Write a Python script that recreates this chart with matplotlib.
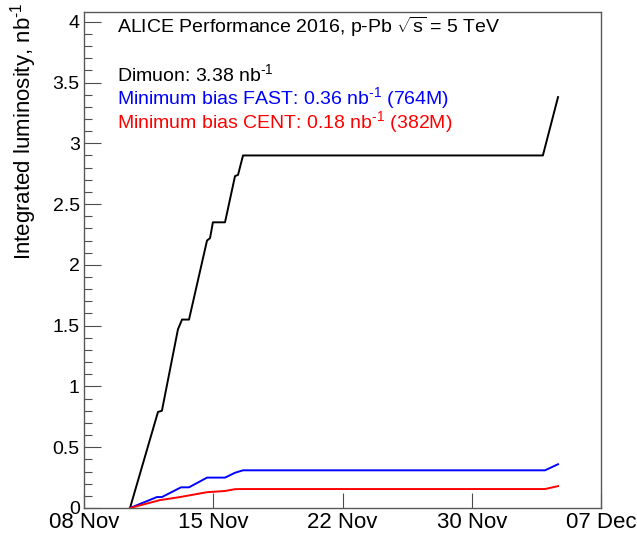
import matplotlib
matplotlib.use("Agg")
import matplotlib.pyplot as plt
from matplotlib.ticker import MultipleLocator, FuncFormatter

plt.rcParams['font.family'] = ['Liberation Sans', 'DejaVu Sans']
plt.rcParams['mathtext.fontset'] = 'custom'
plt.rcParams['mathtext.rm'] = 'Liberation Sans'
plt.rcParams['mathtext.it'] = 'Liberation Sans:italic'
plt.rcParams['mathtext.bf'] = 'Liberation Sans:bold'

# days since 08 Nov 2016
dimuon_t = [2.58, 4.15, 4.37, 5.27, 5.50, 5.89, 6.90, 7.07, 7.23, 7.91, 8.47, 8.64, 8.92, 25.74, 26.59]
dimuon_l = [0.0, 0.79, 0.80, 1.47, 1.55, 1.55, 2.20, 2.22, 2.35, 2.35, 2.73, 2.74, 2.90, 2.90, 3.38]

fast_t = [2.58, 4.09, 4.37, 5.44, 5.89, 6.90, 7.91, 8.47, 8.92, 25.86, 26.59]
fast_l = [0.0, 0.09, 0.09, 0.17, 0.17, 0.25, 0.25, 0.29, 0.31, 0.31, 0.36]

cent_t = [2.58, 4.26, 5.38, 6.90, 7.91, 8.47, 8.92, 25.86, 26.59]
cent_l = [0.0, 0.065, 0.09, 0.13, 0.14, 0.155, 0.156, 0.156, 0.18]

xtick_pos = [0, 7.25, 14.5, 21.75, 29]
xtick_labels = ["08 Nov", "15 Nov", "22 Nov", "30 Nov", "07 Dec"]

fig = plt.figure(figsize=(6.37, 5.34), dpi=100)
ax = fig.add_axes([84 / 637, 26 / 534, 517 / 637, 496 / 534])

ax.plot(dimuon_t, dimuon_l, color="black", lw=1.4)
ax.plot(fast_t, fast_l, color="blue", lw=1.4)
ax.plot(cent_t, cent_l, color="red", lw=1.4)

ax.set_xlim(0, 29)
ax.set_ylim(0, 4.08)

ax.set_xticks(xtick_pos)
ax.set_xticklabels(xtick_labels)
ax.yaxis.set_major_locator(MultipleLocator(0.5))
ax.yaxis.set_minor_locator(MultipleLocator(0.1))
ax.yaxis.set_major_formatter(FuncFormatter(lambda v, p: "%g" % v))

ax.tick_params(axis="x", which="major", direction="in", length=11, width=0.8,
               labelsize=16, pad=3, color="0.3")
ax.tick_params(axis="y", which="major", direction="in", length=12, width=0.8,
               labelsize=14, pad=3, color="0.3")
ax.tick_params(axis="y", which="minor", direction="in", length=6, width=0.8, color="0.3")
for s in ax.spines.values():
    s.set_color("0.35")
    s.set_linewidth(1.0)

inv_nb = r"nb$^{\text{-1}}$"

ax.set_ylabel("Integrated luminosity, " + inv_nb, fontsize=16, loc="top")
ax.yaxis.set_label_coords(-0.088, 1.02)

tx = (117 - 84) / 517
ax.text(tx, 1 - (33 - 12) / 496, r"ALICE Performance 2016, p-Pb $\sqrt{\mathrm{s}}$ = 5 TeV",
        transform=ax.transAxes, fontsize=14, color="black", va="baseline")
ax.text(tx, 1 - (81 - 12) / 496, "Dimuon: 3.38 " + inv_nb,
        transform=ax.transAxes, fontsize=14, color="black", va="baseline")
ax.text(tx, 1 - (104 - 12) / 496, "Minimum bias FAST: 0.36 " + inv_nb + " (764M)",
        transform=ax.transAxes, fontsize=14, color="blue", va="baseline")
ax.text(tx, 1 - (128 - 12) / 496, "Minimum bias CENT: 0.18 " + inv_nb + " (382M)",
        transform=ax.transAxes, fontsize=14, color="red", va="baseline")

fig.savefig("out.png", dpi=100)
